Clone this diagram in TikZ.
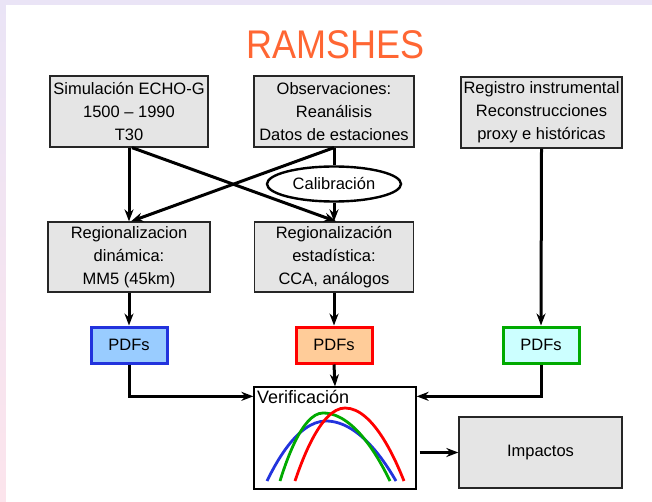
\documentclass[tikz,border=0pt]{standalone}
\usepackage{fontspec}
\setmainfont{Liberation Sans}
\usetikzlibrary{arrows.meta,shapes.geometric}
\definecolor{titulocol}{HTML}{FF6633}
\definecolor{lavanda}{HTML}{EAE4F6}
\definecolor{rosado}{HTML}{FCE4EC}
\definecolor{cajagris}{HTML}{E5E5E5}
\definecolor{azulborde}{HTML}{2233DD}
\definecolor{azulfondo}{HTML}{99CCFF}
\definecolor{rojoborde}{HTML}{FF0000}
\definecolor{naranjafondo}{HTML}{FFCC99}
\definecolor{verdeborde}{HTML}{00AA00}
\definecolor{cianfondo}{HTML}{CCFFFF}
\begin{document}
\begin{tikzpicture}[x=1pt, y=-1pt, line join=miter, >={Stealth[length=12pt,width=9pt]},
	font=\fontsize{16.5}{23}\selectfont,
	caja/.style={draw=black!85, line width=1.3pt, fill=cajagris, inner sep=0pt, align=center},
	pdfcaja/.style={line width=3pt, inner sep=0pt, minimum width=76pt, minimum height=36pt},
	flecha/.style={->, line width=3pt},
	curva/.style={line width=2.8pt}]
	% fondo
	\useasboundingbox (0,0) rectangle (652,502);
	\shade[top color=lavanda, bottom color=rosado] (0,0) rectangle (652,502);
	\fill[white] (6,5) rectangle (652,502);
	\node[text=titulocol] (titulo) at (335.5,44.5) {\scalebox{0.9}[1]{\fontsize{40}{40}\selectfont RAMSHES}};
	% fuentes
	\node[caja, minimum width=158pt, minimum height=71pt] (sim) at (129,111.5) {Simulación ECHO-G\\1500 -- 1990\\T30};
	\node[caja, minimum width=160pt, minimum height=71pt] (obs) at (334,111.5) {Observaciones:\\Reanálisis\\Datos de estaciones};
	\node[caja, minimum width=161pt, minimum height=71pt] (reg) at (541.5,112.5) {Registro instrumental\\Reconstrucciones\\proxy e históricas};
	% regionalizacion
	\node[caja, minimum width=162pt, minimum height=70pt] (din) at (129,257) {Regionalizacion\\dinámica:\\MM5 (45km)};
	\node[caja, minimum width=159pt, minimum height=70pt] (est) at (334,257) {Regionalización\\estadística:\\CCA, análogos};
	\node[ellipse, draw, line width=2.4pt, fill=white, minimum width=134pt, minimum height=35pt, inner sep=0pt] (cal) at (334,184) {Calibración};
	% PDFs
	\node[pdfcaja, draw=azulborde, fill=azulfondo] (pdfa) at (129,345) {PDFs};
	\node[pdfcaja, draw=rojoborde, fill=naranjafondo] (pdfb) at (334,345) {PDFs};
	\node[pdfcaja, draw=verdeborde, fill=cianfondo] (pdfc) at (541,345) {PDFs};
	% verificacion e impactos
	\node[draw, line width=1.3pt, fill=white, minimum width=162pt, minimum height=102pt, inner sep=0pt] (ver) at (335,438) {};
	\node[anchor=base west, inner sep=0pt, font=\fontsize{18}{20}\selectfont] (vertxt) at (257,403) {Verificación};
	\node[caja, minimum width=163pt, minimum height=71pt] (imp) at (540.5,452.5) {Impactos};
	\draw[curva, azulborde] (267,481) parabola bend (326,421) (396,481);
	\draw[curva, verdeborde] (280,481) parabola bend (323,413) (390,481);
	\draw[curva, rojoborde] (295,481) parabola bend (345,408) (404,481);
	% conexiones
	\draw[flecha] (sim.south) -- (din.north);
	\draw[flecha] ([xshift=3pt]sim.south) -- ([xshift=2pt]est.north);
	\draw[flecha] (obs.south) -- ([xshift=2pt]din.north);
	\draw[line width=3pt] (obs.south) -- (cal.north);
	\draw[flecha] (cal.south) -- (est.north);
	\draw[flecha] (din.south) -- (pdfa.north);
	\draw[flecha] (est.south) -- (pdfb.north);
	\draw[flecha] (reg.south) -- (pdfc.north);
	\draw[flecha] (pdfa.south) |- ([yshift=-10pt]ver.north west);
	\draw[flecha] (pdfc.south) |- ([yshift=-10pt]ver.north east);
	\draw[flecha] (pdfb.south) -- (ver.north);
	\coordinate (versal) at (ver.east |- imp.west);
	\draw[flecha] ([xshift=3pt]versal) -- (imp.west);
\end{tikzpicture}
\end{document}
